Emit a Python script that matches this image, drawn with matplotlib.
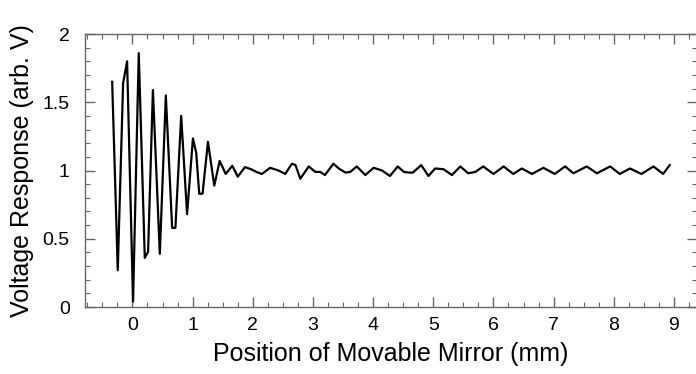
import matplotlib
matplotlib.use("Agg")
import matplotlib.pyplot as plt
from matplotlib.ticker import MultipleLocator

plt.rcParams['font.family'] = ['Liberation Sans', 'DejaVu Sans']

# Interferogram trace (mirror position in mm, voltage in arb. V)
position = [
    -0.337, -0.244, -0.155, -0.089, 0.01, 0.105, 0.205, 0.26, 0.34, 0.455,
    0.555, 0.66, 0.714, 0.81, 0.908, 1.005, 1.06, 1.11, 1.165, 1.255,
    1.36, 1.45, 1.55, 1.66, 1.75, 1.87, 1.97, 2.06, 2.15, 2.29,
    2.43, 2.54, 2.65, 2.71, 2.79, 2.93, 3.04, 3.12, 3.20, 3.34,
    3.43, 3.54, 3.62, 3.73, 3.87, 4.01, 4.15, 4.28, 4.41, 4.51,
    4.60, 4.66, 4.80, 4.92, 5.03, 5.17, 5.31, 5.45, 5.58, 5.70,
    5.83, 6.00, 6.17, 6.33, 6.47, 6.64, 6.83, 7.02, 7.19, 7.33,
    7.55, 7.72, 7.94, 8.10, 8.27, 8.46, 8.66, 8.82, 8.93,
]
voltage = [
    1.65, 0.27, 1.64, 1.80, 0.04, 1.86, 0.36, 0.405, 1.59, 0.39,
    1.55, 0.58, 0.58, 1.40, 0.68, 1.235, 1.13, 0.83, 0.83, 1.21,
    0.89, 1.07, 0.975, 1.035, 0.955, 1.025, 1.01, 0.99, 0.975, 1.02,
    1.00, 0.975, 1.05, 1.04, 0.94, 1.03, 0.99, 0.99, 0.967, 1.05,
    1.015, 0.985, 0.99, 1.03, 0.967, 1.02, 1.00, 0.96, 1.03, 0.99,
    0.985, 0.985, 1.04, 0.96, 1.015, 1.01, 0.967, 1.03, 0.98, 0.99,
    1.03, 0.975, 1.03, 0.975, 1.015, 0.975, 1.02, 0.975, 1.03, 0.98,
    1.03, 0.98, 1.03, 0.975, 1.015, 0.975, 1.03, 0.975, 1.04,
]

x_ticks = [0, 1, 2, 3, 4, 5, 6, 7, 8, 9]
y_ticks = [0, 0.5, 1, 1.5, 2]
y_tick_labels = ["0", "0.5", "1", "1.5", "2"]

fig = plt.figure(figsize=(6.96, 3.74), dpi=100)
ax = fig.add_axes([0.122, 0.179, 0.880, 0.730])

ax.plot(position, voltage, color='black', linewidth=1.6)

ax.set_xlim(-0.79, 9.39)
ax.set_ylim(0, 2)

ax.set_xticks(x_ticks)
ax.set_xticklabels([str(t) for t in x_ticks])
ax.set_yticks(y_ticks)
ax.set_yticklabels(y_tick_labels)
ax.xaxis.set_minor_locator(MultipleLocator(0.25))
ax.yaxis.set_minor_locator(MultipleLocator(0.1))

# inward ticks on all four sides, grey frame
ax.tick_params(which='both', direction='in', top=True, right=True, color='#666666')
ax.tick_params(which='major', length=7, width=1.0, labelsize=14)
ax.tick_params(which='minor', length=3.5, width=0.8)
ax.tick_params(axis='x', which='major', pad=7)
ax.tick_params(axis='y', which='major', pad=11)
for sp in ax.spines.values():
    sp.set_color('#666666')
    sp.set_linewidth(1.0)

ax.set_xlabel("Position of Movable Mirror (mm)", fontsize=18, labelpad=6)
ax.set_ylabel("Voltage Response (arb. V)", fontsize=18, labelpad=6)

fig.savefig("out.png", dpi=100)
